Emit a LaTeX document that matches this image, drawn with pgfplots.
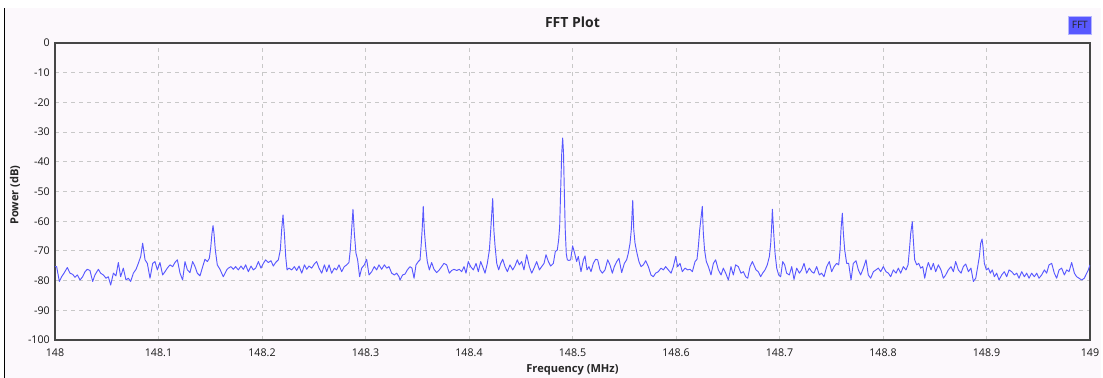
\documentclass[border=0pt]{standalone}
\usepackage{fontspec}
\setmainfont{Open Sans}
\usepackage{pgfplots}
\pgfplotsset{compat=1.18}
\definecolor{bg}{RGB}{252,248,252}
\definecolor{trace}{RGB}{88,88,255}
\definecolor{gridc}{RGB}{200,200,200}
\definecolor{frame}{RGB}{70,70,70}
\begin{document}
\begin{tikzpicture}
\useasboundingbox (0,0) rectangle (827.25pt,283.5pt);
\fill[white] (0,0) rectangle (827.25pt,283.5pt);
\fill[bg] (3.75pt,0) rectangle (825.75pt,277.5pt);
\draw[black, line width=0.75pt] (3.4pt,0) -- (3.4pt,277.5pt);
\begin{axis}[
  at={(41.25pt,28.5pt)}, anchor=south west,
  width=776.25pt, height=222.75pt, scale only axis,
  xmin=148, xmax=149, ymin=-100, ymax=0,
  xtick={148,148.1,148.2,148.3,148.4,148.5,148.6,148.7,148.8,148.9,149},
  xticklabels={148,148.1,148.2,148.3,148.4,148.5,148.6,148.7,148.8,148.9,149},
  ytick={-100,-90,-80,-70,-60,-50,-40,-30,-20,-10,0},
  yticklabels={-100,-90,-80,-70,-60,-50,-40,-30,-20,-10,0},
  major tick length=0pt,
  grid=major,
  major grid style={gridc, dash pattern=on 3pt off 3pt, line width=0.75pt},
  axis line style={draw=frame, line width=0.9pt},
  tick label style={font=\fontsize{8}{9}\selectfont, text=black!90},
  xticklabel style={anchor=center, yshift=-9.75pt},
  yticklabel style={anchor=east, inner sep=0pt, xshift=-3.75pt},
  title={FFT Plot},
  every axis title/.style={at={(rel axis cs:0.5,1)}, anchor=center, yshift=15.75pt, font=\bfseries\fontsize{10.5}{12}\selectfont, text=black!85},
  xlabel={Frequency (MHz)},
  every axis x label/.style={at={(rel axis cs:0.5,0)}, anchor=center, yshift=-22.5pt, font=\bfseries\fontsize{8.3}{10}\selectfont, text=black!85},
  ylabel={Power (dB)},
  every axis y label/.style={at={(rel axis cs:0,0.488)}, rotate=90, anchor=center, yshift=30pt, font=\bfseries\fontsize{8.3}{10}\selectfont, text=black!85},
  clip=true,
]
\addplot[trace, line width=0.7pt, line join=round] table[x=x,y=y] {
x y
148.0000 -75.3
148.0016 -75.3
148.0042 -80.3
148.0064 -78.7
148.0087 -77.5
148.0119 -75.6
148.0145 -77.5
148.0171 -77.9
148.0193 -78.9
148.0216 -78.1
148.0242 -79.8
148.0267 -78.7
148.0290 -77.0
148.0312 -76.2
148.0338 -76.6
148.0364 -80.3
148.0386 -78.1
148.0419 -76.2
148.0441 -77.5
148.0467 -78.1
148.0493 -79.2
148.0515 -78.7
148.0538 -81.5
148.0564 -77.5
148.0589 -78.4
148.0612 -73.9
148.0634 -78.7
148.0660 -75.8
148.0686 -79.8
148.0709 -79.2
148.0731 -80.3
148.0757 -77.5
148.0783 -76.2
148.0805 -74.2
148.0828 -71.9
148.0847 -67.4
148.0870 -73.0
148.0892 -74.2
148.0918 -79.2
148.0944 -74.2
148.0966 -73.6
148.0989 -76.4
148.1014 -73.9
148.1040 -78.1
148.1063 -77.0
148.1085 -75.8
148.1111 -74.7
148.1137 -75.3
148.1159 -73.9
148.1182 -73.0
148.1208 -77.5
148.1233 -79.8
148.1256 -73.6
148.1279 -76.4
148.1304 -77.3
148.1330 -73.6
148.1353 -75.3
148.1375 -77.5
148.1401 -78.4
148.1427 -75.3
148.1449 -72.8
148.1472 -73.6
148.1491 -72.5
148.1504 -69.1
148.1517 -64.0
148.1527 -61.5
148.1536 -64.0
148.1549 -69.7
148.1568 -74.7
148.1594 -76.2
148.1626 -78.7
148.1659 -76.4
148.1675 -75.8
148.1700 -75.3
148.1723 -76.2
148.1745 -75.3
148.1771 -76.4
148.1797 -75.1
148.1820 -76.2
148.1842 -74.7
148.1868 -77.0
148.1894 -75.1
148.1916 -76.4
148.1939 -75.8
148.1965 -73.6
148.1990 -75.8
148.2013 -74.2
148.2035 -73.0
148.2061 -73.9
148.2087 -73.3
148.2109 -75.1
148.2132 -73.9
148.2158 -73.0
148.2177 -69.7
148.2190 -62.9
148.2203 -57.9
148.2216 -64.0
148.2229 -71.9
148.2242 -76.4
148.2261 -75.8
148.2287 -76.4
148.2313 -75.3
148.2335 -76.6
148.2358 -75.1
148.2384 -77.5
148.2410 -74.7
148.2432 -76.2
148.2454 -75.1
148.2480 -75.8
148.2506 -74.4
148.2528 -73.6
148.2551 -75.8
148.2577 -77.5
148.2603 -74.7
148.2625 -77.0
148.2648 -74.7
148.2673 -77.5
148.2699 -75.8
148.2721 -76.4
148.2744 -74.7
148.2770 -77.0
148.2795 -75.3
148.2818 -74.7
148.2840 -73.9
148.2853 -69.7
148.2866 -62.9
148.2879 -56.0
148.2892 -64.0
148.2908 -70.8
148.2924 -73.0
148.2943 -78.7
148.2963 -75.8
148.2989 -74.7
148.3011 -72.8
148.3034 -78.1
148.3060 -77.0
148.3085 -75.3
148.3108 -76.4
148.3130 -74.7
148.3156 -76.2
148.3182 -74.7
148.3205 -75.8
148.3227 -75.3
148.3253 -77.5
148.3279 -78.1
148.3301 -77.5
148.3324 -78.7
148.3333 -79.8
148.3359 -78.1
148.3382 -77.8
148.3404 -76.4
148.3430 -75.3
148.3449 -75.8
148.3469 -79.2
148.3488 -74.7
148.3510 -73.6
148.3527 -73.0
148.3539 -67.4
148.3549 -61.8
148.3558 -55.0
148.3568 -62.9
148.3581 -68.5
148.3597 -73.6
148.3617 -76.4
148.3639 -73.9
148.3662 -76.2
148.3687 -77.3
148.3713 -76.4
148.3736 -75.3
148.3758 -74.2
148.3784 -74.7
148.3810 -77.5
148.3832 -76.6
148.3855 -76.2
148.3881 -76.6
148.3906 -76.2
148.3929 -77.0
148.3952 -75.3
148.3971 -77.5
148.3993 -73.6
148.4016 -75.3
148.4042 -76.4
148.4068 -74.2
148.4090 -77.0
148.4113 -73.6
148.4132 -75.3
148.4155 -77.5
148.4177 -74.2
148.4197 -69.7
148.4210 -62.9
148.4229 -52.4
148.4240 -62.9
148.4252 -68.5
148.4268 -74.2
148.4287 -76.4
148.4306 -74.2
148.4326 -72.8
148.4348 -75.3
148.4371 -77.0
148.4396 -74.7
148.4422 -76.4
148.4444 -75.1
148.4467 -73.0
148.4486 -74.7
148.4509 -73.6
148.4531 -76.4
148.4557 -71.3
148.4583 -75.3
148.4606 -77.5
148.4628 -75.8
148.4654 -73.6
148.4680 -76.4
148.4702 -75.3
148.4725 -74.2
148.4744 -71.3
148.4767 -73.6
148.4789 -75.1
148.4815 -74.2
148.4834 -70.2
148.4853 -69.7
148.4866 -66.3
148.4876 -61.8
148.4886 -49.0
148.4896 -37.0
148.4905 -32.0
148.4913 -37.0
148.4921 -50.0
148.4930 -63.0
148.4940 -71.0
148.4950 -73.0
148.4965 -73.2
148.4982 -73.0
148.5001 -68.3
148.5021 -70.8
148.5040 -73.6
148.5056 -71.9
148.5082 -77.0
148.5105 -73.0
148.5121 -71.7
148.5140 -76.4
148.5159 -75.3
148.5179 -77.0
148.5201 -74.2
148.5224 -72.8
148.5243 -73.0
148.5266 -76.4
148.5288 -77.5
148.5314 -76.4
148.5340 -73.0
148.5362 -74.7
148.5385 -77.5
148.5404 -75.3
148.5427 -73.6
148.5449 -72.5
148.5475 -77.3
148.5501 -74.2
148.5523 -73.0
148.5539 -70.8
148.5556 -67.4
148.5568 -62.9
148.5582 -53.0
148.5592 -62.9
148.5604 -67.4
148.5623 -70.8
148.5642 -73.6
148.5662 -75.3
148.5684 -74.7
148.5707 -73.3
148.5733 -75.3
148.5758 -78.1
148.5781 -78.7
148.5803 -77.5
148.5829 -77.0
148.5855 -75.8
148.5878 -76.4
148.5900 -75.3
148.5926 -76.4
148.5952 -77.5
148.5974 -75.3
148.5997 -71.9
148.6016 -75.3
148.6039 -74.2
148.6061 -77.0
148.6087 -75.8
148.6113 -76.4
148.6135 -76.2
148.6158 -77.0
148.6184 -73.6
148.6203 -72.8
148.6216 -68.5
148.6229 -62.9
148.6254 -55.0
148.6264 -64.0
148.6276 -69.7
148.6293 -73.6
148.6313 -75.3
148.6338 -78.1
148.6361 -74.2
148.6383 -73.0
148.6409 -76.4
148.6435 -78.1
148.6457 -75.8
148.6480 -77.5
148.6506 -79.8
148.6531 -75.3
148.6554 -78.1
148.6576 -74.7
148.6602 -75.3
148.6628 -77.5
148.6651 -77.0
148.6673 -78.7
148.6693 -79.2
148.6715 -75.3
148.6738 -73.6
148.6773 -76.4
148.6795 -77.0
148.6818 -78.7
148.6837 -77.5
148.6860 -76.4
148.6882 -74.7
148.6902 -71.9
148.6915 -67.4
148.6924 -61.8
148.6931 -56.0
148.6944 -64.0
148.6957 -70.8
148.6973 -75.8
148.6992 -78.1
148.7011 -78.7
148.7031 -73.6
148.7050 -74.7
148.7069 -77.5
148.7095 -78.1
148.7118 -75.3
148.7140 -79.6
148.7166 -75.8
148.7192 -77.5
148.7214 -76.4
148.7237 -74.2
148.7262 -77.5
148.7288 -75.8
148.7311 -77.0
148.7333 -77.5
148.7359 -75.3
148.7385 -78.1
148.7407 -77.5
148.7430 -78.7
148.7456 -75.3
148.7481 -73.6
148.7504 -77.0
148.7527 -75.3
148.7552 -74.2
148.7572 -74.7
148.7585 -69.7
148.7594 -62.9
148.7607 -57.3
148.7617 -64.0
148.7630 -69.7
148.7649 -74.2
148.7668 -74.2
148.7691 -79.8
148.7713 -74.2
148.7739 -73.3
148.7762 -76.4
148.7784 -78.1
148.7810 -75.8
148.7836 -73.0
148.7858 -78.1
148.7881 -79.2
148.7907 -77.0
148.7932 -76.4
148.7955 -75.8
148.7978 -77.0
148.8003 -75.3
148.8029 -77.0
148.8052 -77.5
148.8074 -78.7
148.8100 -76.4
148.8126 -77.5
148.8148 -75.8
148.8171 -77.5
148.8196 -75.3
148.8222 -76.4
148.8242 -74.7
148.8255 -69.7
148.8268 -64.0
148.8283 -60.2
148.8293 -66.3
148.8306 -73.0
148.8326 -74.7
148.8345 -74.2
148.8364 -75.8
148.8384 -75.3
148.8403 -79.2
148.8422 -75.8
148.8438 -73.9
148.8464 -76.4
148.8486 -74.2
148.8509 -77.0
148.8535 -74.7
148.8560 -76.4
148.8583 -79.2
148.8606 -78.1
148.8631 -76.4
148.8657 -75.3
148.8680 -77.0
148.8702 -73.6
148.8728 -76.4
148.8754 -77.5
148.8776 -75.3
148.8799 -74.4
148.8825 -77.0
148.8850 -75.8
148.8873 -80.3
148.8896 -79.2
148.8915 -75.3
148.8931 -71.9
148.8944 -67.4
148.8957 -66.0
148.8966 -68.5
148.8979 -74.2
148.8999 -76.4
148.9018 -75.8
148.9037 -77.5
148.9056 -76.4
148.9076 -78.7
148.9098 -77.5
148.9121 -79.8
148.9147 -78.1
148.9172 -77.0
148.9195 -78.7
148.9218 -76.4
148.9243 -77.0
148.9269 -78.1
148.9292 -77.5
148.9314 -79.2
148.9340 -77.0
148.9366 -78.7
148.9388 -77.5
148.9411 -79.2
148.9436 -77.5
148.9462 -78.7
148.9485 -77.5
148.9507 -79.2
148.9533 -78.1
148.9559 -76.4
148.9581 -77.5
148.9604 -74.7
148.9630 -74.2
148.9655 -77.5
148.9678 -79.2
148.9701 -76.4
148.9726 -75.8
148.9752 -78.1
148.9775 -76.4
148.9797 -77.0
148.9823 -73.9
148.9849 -77.5
148.9871 -78.7
148.9894 -79.2
148.9920 -79.8
148.9945 -79.2
148.9968 -77.5
148.9984 -76.4
149.0000 -74.7
};
\end{axis}
\node[fill=trace, draw=trace!45!white, line width=0.6pt, minimum width=17.8pt, minimum height=13.5pt, inner sep=0pt, font=\fontsize{7.6}{9}\selectfont, text=black!85] at (809.85pt,264.6pt) {FFT};
\end{tikzpicture}
\end{document}
